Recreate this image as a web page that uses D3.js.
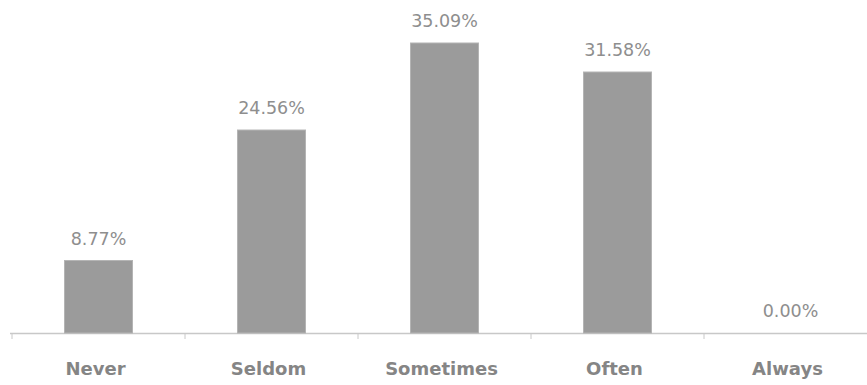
<!DOCTYPE html>
<html>
<head>
<meta charset="utf-8">
<script src="https://cdn.jsdelivr.net/npm/d3@7"></script>
<style>
  html, body { margin: 0; padding: 0; background: #fff; }
  svg { display: block; }
</style>
</head>
<body>
<svg id="chart" width="867" height="385"></svg>
<script>
// Response frequency distribution
const categories = ["Never", "Seldom", "Sometimes", "Often", "Always"];
const percentages = [8.77, 24.56, 35.09, 31.58, 0.00];

const width = 867, height = 385;
const baseY = 333;

const svg = d3.select("#chart");

const x = d3.scaleBand()
  .domain(categories)
  .range([12, 877])
  .paddingInner(0.607)
  .paddingOuter(0.3035);

const y = d3.scaleLinear()
  .domain([0, 35.09])
  .range([baseY, 43]);

// Baseline axis with ticks between categories
const axis = svg.append("g");
axis.append("line")
  .attr("x1", 10).attr("x2", width)
  .attr("y1", baseY + 0.5).attr("y2", baseY + 0.5)
  .attr("stroke", "#c8c8c8").attr("stroke-width", 1.5);

const step = x.step();
const tickXs = d3.range(categories.length).map(i => 12 + i * step);
axis.selectAll("line.tick")
  .data(tickXs)
  .join("line")
  .attr("class", "tick")
  .attr("x1", d => d).attr("x2", d => d)
  .attr("y1", baseY).attr("y2", baseY + 6)
  .attr("stroke", "#c8c8c8").attr("stroke-width", 1);

// Bars
svg.append("g").selectAll("rect")
  .data(percentages)
  .join("rect")
  .attr("x", (d, i) => x(categories[i]))
  .attr("y", d => y(d))
  .attr("width", x.bandwidth())
  .attr("height", d => baseY - y(d))
  .attr("fill", "#9b9b9b")
  .attr("stroke", "#b4b4b4")
  .attr("stroke-width", 1);

// Value labels
svg.append("g").selectAll("text")
  .data(percentages)
  .join("text")
  .attr("x", (d, i) => x(categories[i]) + x.bandwidth() / 2)
  .attr("y", d => y(d) - 16)
  .attr("text-anchor", "middle")
  .attr("font-family", "'DejaVu Sans', sans-serif")
  .attr("font-size", 17.5)
  .attr("fill", "#8e8e8e")
  .text(d => d.toFixed(2) + "%");

// Category labels
svg.append("g").selectAll("text")
  .data(categories)
  .join("text")
  .attr("x", d => x(d) + x.bandwidth() / 2 - 3)
  .attr("y", 375)
  .attr("text-anchor", "middle")
  .attr("font-family", "'DejaVu Sans', sans-serif")
  .attr("font-weight", "bold")
  .attr("font-size", 18)
  .attr("fill", "#858585")
  .text(d => d);
</script>
</body>
</html>
